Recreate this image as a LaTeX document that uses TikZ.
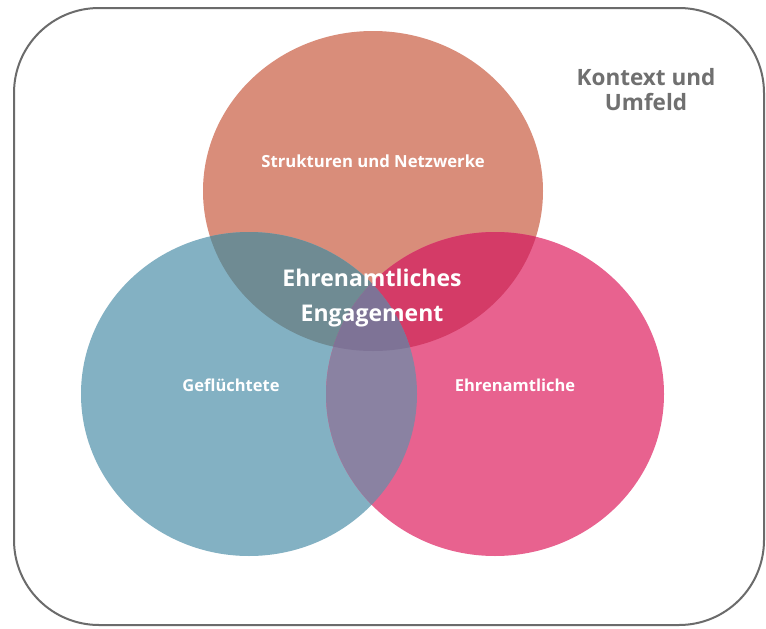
\documentclass[tikz,border=0pt]{standalone}
\usepackage{fontspec}
\setmainfont{Open Sans}
\definecolor{cO}{HTML}{D98D7A}
\definecolor{cB}{HTML}{83B1C3}
\definecolor{cP}{HTML}{E8628F}
\definecolor{cOB}{HTML}{6F8B93}
\definecolor{cOP}{HTML}{D43B67}
\definecolor{cBP}{HTML}{8A82A2}
\definecolor{cOBP}{HTML}{7E7396}
\definecolor{cFrame}{HTML}{6B6B6B}
\definecolor{cCtx}{HTML}{707070}
\newcommand\pathO{(373,191) ellipse [x radius=170, y radius=160]}
\newcommand\pathB{(249,394) ellipse [x radius=168, y radius=162]}
\newcommand\pathP{(495,394) ellipse [x radius=169, y radius=162]}
\tikzset{
  frame/.style={draw=cFrame, line width=2pt, rounded corners=85pt},
  lbl/.style={text=white, font=\bfseries, align=center, inner sep=0pt},
  ctx/.style={text=cCtx, font=\bfseries\fontsize{22.5}{25}\selectfont, align=center, inner sep=0pt}
}
\begin{document}
\begin{tikzpicture}[x=1pt,y=-1pt]
\useasboundingbox (0,0) rectangle (766,629);
\fill[white] (0,0) rectangle (766,629);
\draw[frame] (14,8) rectangle (764,625);
\fill[cO] \pathO;
\fill[cB] \pathB;
\fill[cP] \pathP;
\begin{scope}\clip \pathO; \fill[cOB] \pathB; \end{scope}
\begin{scope}\clip \pathO; \fill[cOP] \pathP; \end{scope}
\begin{scope}\clip \pathB; \fill[cBP] \pathP; \end{scope}
\begin{scope}\clip \pathO; \clip \pathB; \fill[cOBP] \pathP; \end{scope}
\node[ctx] (ctx) at (646,90) {Kontext und\\Umfeld};
\node[lbl, font=\bfseries\fontsize{16.7}{20}\selectfont] (struk) at (373,161) {Strukturen und Netzwerke};
\node[lbl, font=\bfseries\fontsize{23}{35}\selectfont] (eng) at (372,298) {Ehrenamtliches\\Engagement};
\node[lbl, font=\bfseries\fontsize{16.5}{20}\selectfont] (gef) at (231,385) {Geflüchtete};
\node[lbl, font=\bfseries\fontsize{16.5}{20}\selectfont] (ehr) at (515,385) {Ehrenamtliche};
\end{tikzpicture}
\end{document}
